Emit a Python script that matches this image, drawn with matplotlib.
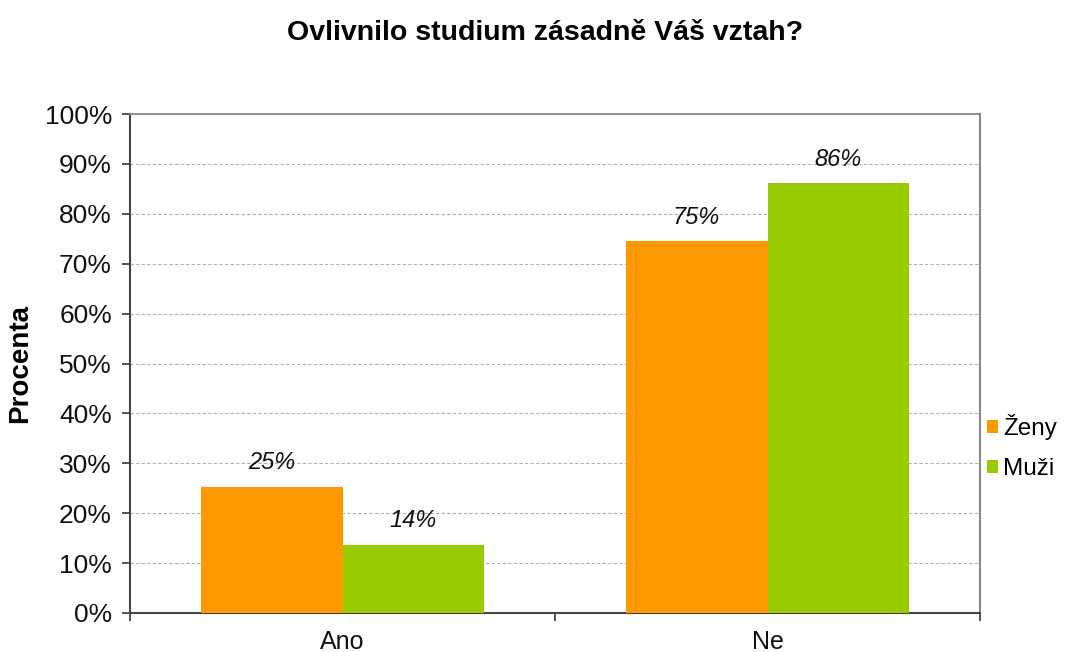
import matplotlib
matplotlib.use("Agg")
import matplotlib.pyplot as plt
import numpy as np
from matplotlib.ticker import MultipleLocator, FuncFormatter

categories = ["Ano", "Ne"]
series_names = ["Ženy", "Muži"]
zeny = [25.3, 74.5]
muzi = [13.7, 86.1]
labels_zeny = ["25%", "75%"]
labels_muzi = ["14%", "86%"]
colors = ["#FF9900", "#99CC00"]

plt.rcParams['font.family'] = ['Liberation Sans', 'DejaVu Sans']

fig = plt.figure(figsize=(10.87, 6.52), dpi=100)
ax = fig.add_axes([130/1087, 1-613/652, 850/1087, 499/652])

x = np.arange(len(categories))
w = 0.334
b1 = ax.bar(x - w/2, zeny, w, color=colors[0], label=series_names[0], zorder=3)
b2 = ax.bar(x + w/2, muzi, w, color=colors[1], label=series_names[1], zorder=3)

for bars, labs in ((b1, labels_zeny), (b2, labels_muzi)):
    for r, t in zip(bars, labs):
        ax.annotate(t, (r.get_x() + r.get_width()/2, r.get_height()),
                    xytext=(0, 9), textcoords="offset points",
                    ha="center", va="bottom", fontsize=17, style="italic", color="#111111")

ax.set_xlim(-0.5, len(categories) - 0.5)
ax.set_ylim(0, 100)
ax.yaxis.set_major_locator(MultipleLocator(10))
ax.yaxis.set_major_formatter(FuncFormatter(lambda v, p: f"{int(round(v))}%"))
ax.set_xticks(x)
ax.set_xticklabels(categories)
ax.set_xticks(np.arange(len(categories) + 1) - 0.5, minor=True)
ax.tick_params(axis="x", which="major", length=0, labelsize=18, pad=12, colors="#111111")
ax.tick_params(axis="x", which="minor", length=6, width=1.2, direction="out", color="#333333")
ax.tick_params(axis="y", which="major", length=6, width=1.2, direction="out", labelsize=19, pad=7, colors="#111111", color="#333333")

for yv in range(10, 100, 10):
    ax.axhline(yv, color="#b0b0b0", lw=0.8, ls=(0, (3, 2)), zorder=1)

ax.spines["left"].set_color("#444444")
ax.spines["left"].set_linewidth(1.5)
ax.spines["bottom"].set_color("#444444")
ax.spines["bottom"].set_linewidth(1.5)
ax.spines["top"].set_color("#888888")
ax.spines["right"].set_color("#888888")
ax.spines["top"].set_linewidth(1.3)
ax.spines["right"].set_linewidth(1.5)

ax.set_ylabel("Procenta", fontsize=20, fontweight="bold")
ax.yaxis.set_label_coords((33 - 130) / 850, 0.5)

fig.suptitle("Ovlivnilo studium zásadně Váš vztah?", fontsize=20.5, fontweight="bold",
             x=545/1087, y=1 - 33/652, va="center")

fig.legend(handles=[b1, b2], labels=series_names, loc="center left",
           bbox_to_anchor=(987/1087, 1 - 447/652), frameon=False, fontsize=17.5,
           handlelength=0.45, handleheight=0.45, handletextpad=0.2, labelspacing=0.75,
           borderaxespad=0, borderpad=0)

fig.savefig("out.png", dpi=100)
